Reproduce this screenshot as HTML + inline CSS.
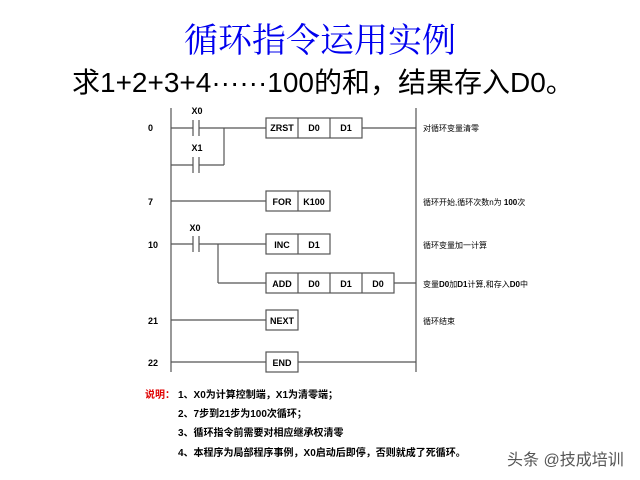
<!DOCTYPE html>
<html><head><meta charset="utf-8"><style>
body{margin:0;width:640px;height:480px;background:#fff;position:relative;overflow:hidden;font-family:"Liberation Sans","Noto Sans CJK SC",sans-serif}
.t{position:absolute;white-space:nowrap}
</style></head><body>
<div class="t" style="left:0;width:640px;text-align:center;top:13px;font-size:34px;color:#0000ee;font-family:'Noto Serif CJK SC',serif">循环指令运用实例</div>
<div class="t" style="left:72px;top:61px;font-size:28px;color:#000">求1+2+3+4······100的和，结果存入D0。</div>
<svg width="640" height="480" style="position:absolute;left:0;top:0" font-family="Liberation Sans, Noto Sans CJK SC, sans-serif">
<g stroke="#555" stroke-width="1.2" fill="none">
<line x1="171" y1="108" x2="171" y2="372"/>
<line x1="416" y1="108" x2="416" y2="372"/>
<line x1="171" y1="128" x2="193" y2="128"/><line x1="199" y1="128" x2="266" y2="128"/>
<line x1="193" y1="120" x2="193" y2="136"/><line x1="199" y1="120" x2="199" y2="136"/>
<line x1="171" y1="165" x2="193" y2="165"/><line x1="199" y1="165" x2="224" y2="165"/><line x1="224" y1="165" x2="224" y2="128"/>
<line x1="193" y1="157" x2="193" y2="173"/><line x1="199" y1="157" x2="199" y2="173"/>
<rect x="266" y="118" width="96" height="20"/><line x1="298" y1="118" x2="298" y2="138"/><line x1="330" y1="118" x2="330" y2="138"/>
<line x1="362" y1="128" x2="416" y2="128"/>
<line x1="171" y1="201" x2="266" y2="201"/>
<rect x="266" y="191" width="64" height="20"/><line x1="298" y1="191" x2="298" y2="211"/>
<line x1="171" y1="244" x2="193" y2="244"/><line x1="199" y1="244" x2="266" y2="244"/>
<line x1="193" y1="236" x2="193" y2="252"/><line x1="199" y1="236" x2="199" y2="252"/>
<rect x="266" y="234" width="64" height="20"/><line x1="298" y1="234" x2="298" y2="254"/>
<line x1="218" y1="244" x2="218" y2="283"/><line x1="218" y1="283" x2="266" y2="283"/>
<rect x="266" y="273" width="128" height="20"/><line x1="298" y1="273" x2="298" y2="293"/><line x1="330" y1="273" x2="330" y2="293"/><line x1="362" y1="273" x2="362" y2="293"/>
<line x1="394" y1="283" x2="416" y2="283"/>
<line x1="171" y1="320" x2="266" y2="320"/>
<rect x="266" y="310" width="32" height="20"/>
<line x1="171" y1="362" x2="266" y2="362"/>
<rect x="266" y="352" width="32" height="20"/>
<line x1="298" y1="362" x2="416" y2="362"/>
</g>
<g font-size="9" font-weight="bold" fill="#000" text-anchor="middle">
<text x="197" y="114">X0</text><text x="197" y="151">X1</text><text x="195" y="231">X0</text>
<text x="282" y="131">ZRST</text><text x="314" y="131">D0</text><text x="346" y="131">D1</text>
<text x="282" y="205">FOR</text><text x="314" y="205">K100</text>
<text x="282" y="248">INC</text><text x="314" y="248">D1</text>
<text x="282" y="287">ADD</text><text x="314" y="287">D0</text><text x="346" y="287">D1</text><text x="378" y="287">D0</text>
<text x="282" y="324">NEXT</text><text x="282" y="366">END</text>
</g>
<g font-size="9" font-weight="bold" fill="#000">
<text x="148" y="131">0</text><text x="148" y="205">7</text><text x="148" y="248">10</text><text x="148" y="324">21</text><text x="148" y="366">22</text>
</g>
<g font-size="8" fill="#000">
<text x="423" y="131">对循环变量清零</text>
<text x="423" y="205">循环开始,循环次数n为 <tspan font-weight="bold">100</tspan>次</text>
<text x="423" y="248">循环变量加一计算</text>
<text x="423" y="287">变量<tspan font-weight="bold">D0</tspan>加<tspan font-weight="bold">D1</tspan>计算,和存入<tspan font-weight="bold">D0</tspan>中</text>
<text x="423" y="324">循环结束</text>
</g>
<g font-size="10" font-weight="bold" fill="#000">
<text x="145" y="398" fill="#e00000">说明：</text>
<text x="178" y="398">1、X0为计算控制端，X1为清零端；</text>
<text x="178" y="417">2、7步到21步为100次循环；</text>
<text x="178" y="436">3、循环指令前需要对相应继承权清零</text>
<text x="178" y="456">4、本程序为局部程序事例，X0启动后即停，否则就成了死循环。</text>
</g>
<text x="507" y="465" font-size="16" fill="#555">头条 @技成培训</text>
</svg>
</body></html>
